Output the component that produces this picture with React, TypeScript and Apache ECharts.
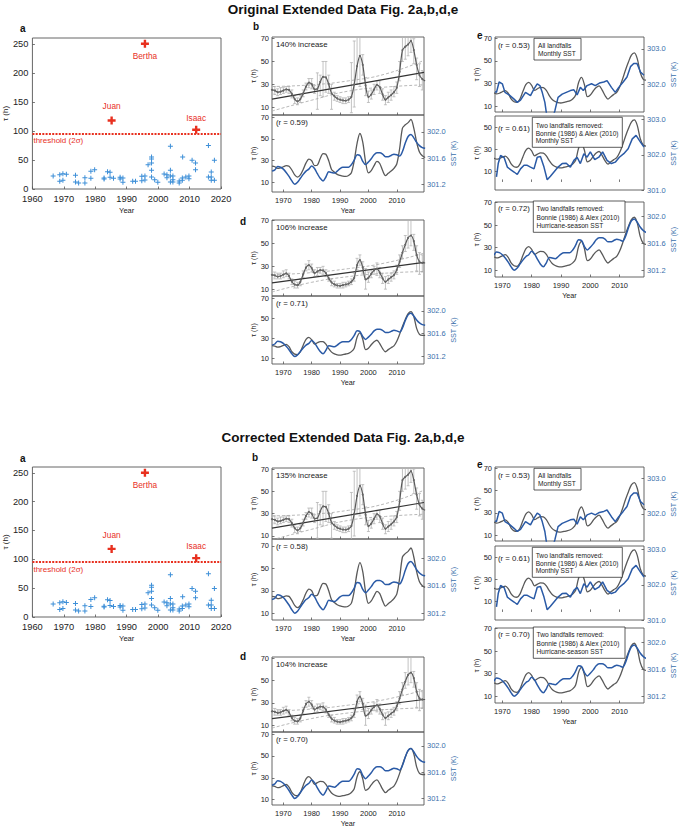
import React, { useEffect, useRef } from "react";
import * as echarts from "echarts";

// ---------------- data ----------------
const years = [1966,1967,1968,1969,1970,1971,1972,1973,1974,1975,1976,1977,1978,1979,1980,1981,1982,1983,1984,1985,1986,1987,1988,1989,1990,1991,1992,1993,1994,1995,1996,1997,1998,1999,2000,2001,2002,2003,2004,2005,2006,2007,2008,2009,2010,2011,2012,2013,2014,2015,2016,2017,2018,2019,2020];

// panel b: all landfalls, smoothed tau (h) and error bars
const tauAll = [25,24.5,23,23.5,24.5,25.5,25,21.5,17,15,17,22,28,31.5,30,25.5,26,32,36.5,36,30,22,19.5,17.5,16.5,15.8,15.6,16.5,19,30,46,55,47,29,18.8,21,25.5,29.5,27.5,21,16.4,18.5,20.5,23,27,41,60,63,65,68,60,47,38,34.5,33];
const tauAllLo = [22,21,20,21,22,23,22,18,13,12,14,19,25,27,26,22,8,20,19,23,22,8,16,15,14,13,13,14,5,10,30,28,38,20,14,17,21,25,22,16,12,14,16,19,22,33,50,52,55,58,48,34,28,25,25];
const tauAllHi = [28,28,26,27,27,28,28,25,20,18,20,25,31,35,35,29,40,38,50,50,38,30,23,20,19,18,18,19,49,68,80,80,56,36,24,25,30,33,33,26,20,23,25,28,32,50,80,80,80,80,70,53,48,42,40];

// panel d/e: two landfalls removed
const tauRemoved = [22.5,22,21,21.5,22.8,23.8,21.5,16.5,14,13.5,16.4,23,29,31,28.5,24,25.5,26.7,26.5,24,19.5,16,14.2,13.2,12.9,13.5,14.1,14.8,16.5,20,31,35.5,29,18.5,20,23.5,26.5,28,24.5,19.5,16.4,18.5,20.5,22.3,27,34,42,49,55,57,52,40,34,33,33];
const tauRemLo = [20,19,19,19,20,21,19,14,11,11,13,20,26,27,25,21,22,24,23,21,17,13,12,11,11,11,12,13,14,17,27,31,24,10,16,20,23,22,20,15,10,15,17,19,23,29,37,43,46,48,44,26,23,25,25];
const tauRemHi = [25,25,24,24,26,27,24,19,17,16,19,26,32,35,32,27,29,29,30,27,22,19,17,15,15,16,16,17,19,24,37,40,34,28,25,27,30,33,29,24,21,22,24,26,31,40,48,57,80,80,58,48,42,40,40];

// hurricane-season SST (K)
const sstSeason = [301.40,301.42,301.47,301.46,301.43,301.38,301.32,301.25,301.20,301.23,301.29,301.35,301.40,301.43,301.48,301.44,301.36,301.29,301.25,301.31,301.39,301.38,301.37,301.40,301.44,301.46,301.46,301.46,301.50,301.57,301.65,301.64,301.55,301.50,301.54,301.59,301.65,301.68,301.68,301.66,301.62,301.62,301.64,301.66,301.65,301.63,301.70,301.83,301.93,301.96,301.91,301.84,301.79,301.76,301.75];

// monthly SST (K), e top panel
const monthlyYearsA = [1967.5,1968.0,1968.9,1970.0,1970.9,1972.3,1974.0,1975.1,1976.2,1977.9,1979.6,1980.8,1981.9,1982.8,1983.6,1984.5,1985.1,1985.9,1986.8,1987.9,1989.0,1990.4,1991.8,1993.2,1994.4,1995.5,1996.6,1997.6,1998.9,2000.4,2001.7,2003.1,2004.6,2005.7,2007.2,2008.5,2009.7,2011.2,2012.5,2013.7,2014.8,2015.9,2017.1,2018.3];
const sstMonthlyA = [301.80,301.78,302.07,302.02,301.78,301.71,301.59,301.50,301.56,301.78,301.69,301.88,302.02,301.97,301.78,301.50,301.16,300.90,300.97,301.26,301.64,301.73,301.78,301.83,301.85,301.71,301.92,301.83,301.97,302.02,301.97,302.04,302.07,302.11,301.92,301.78,301.92,302.07,302.21,302.50,302.59,302.59,302.35,302.26];
// monthly SST (K), e middle panel
const monthlyYearsB = [1968.0,1968.6,1969.4,1970.6,1971.7,1972.8,1974.0,1975.1,1976.2,1977.4,1978.5,1979.6,1980.8,1981.9,1983.0,1984.2,1985.3,1986.4,1987.6,1989.0,1990.4,1991.8,1993.2,1994.4,1995.5,1996.6,1997.8,1998.9,2000.0,2001.5,2002.9,2004.2,2005.7,2007.2,2008.5,2009.9,2011.4,2012.9,2014.3,2015.6,2017.1,2018.3];
const sstMonthlyB = [301.37,301.75,301.98,301.92,301.65,301.58,301.51,301.44,301.60,301.70,301.70,301.65,301.60,301.93,301.95,301.65,301.29,301.39,301.51,301.65,301.75,301.76,301.65,301.84,301.93,301.75,302.03,301.93,302.08,301.86,301.93,302.08,301.84,301.75,301.79,301.93,302.03,302.17,302.45,302.55,302.36,302.22];

// trend lines and confidence bands
const regYears = [1966, 2019.6];
const bRegOrig = [17, 40.5];
const bRegCorr = [17, 40];
const dRegOrig = [15.5, 33.5];
const dRegCorr = [16, 33];
const ciYears = [1966, 1980, 1993, 2006, 2019.6];
const bUpper = [28, 29.5, 33, 39, 51];
const bLower = [6.5, 16, 24, 27.5, 29.5];
const dUpper = [22.5, 24.5, 28, 33, 41.5];
const dLower = [7.5, 16, 21, 24, 25.5];

// panel a: individual landfalls
const stormYears = [1966.6,1968.7,1968.7,1969.7,1969.7,1970.8,1973.7,1973.7,1974.7,1976.7,1976.7,1978.6,1978.6,1979.8,1982.8,1982.8,1983.9,1984.7,1984.7,1985.8,1987.9,1987.9,1988.8,1988.8,1991.9,1992.8,1994.8,1994.8,1995.8,1995.8,1996.8,1997.9,1997.9,1997.9,1997.9,1997.9,1998.9,1999.9,2001.9,2002.8,2002.8,2003.9,2003.9,2003.9,2003.9,2004.7,2004.7,2004.7,2006.7,2006.7,2007.7,2007.7,2007.8,2008.8,2009.8,2009.8,2010.8,2011.9,2011.9,2016.0,2016.0,2016.9,2016.9,2016.9,2017.9,2017.9];
const stormTauOrig = [22.4,24.6,13.2,26.4,14.9,25.2,23.5,12.0,10.3,19.5,10.3,30.4,18.3,33.3,17.2,18.8,29.8,28.7,20.1,18.3,20.1,17.2,18.9,11.5,13.2,13.2,14.3,21.8,22.4,15.5,41.9,55,51.6,44.7,32.1,20.6,16.1,11.5,25.8,24.6,19.5,73.4,32.1,22.4,12.0,22.4,16.1,12.0,10.3,13.8,14.9,18.9,55,20.6,22.4,17.8,49.3,44.7,33.3,75.1,20.6,29.2,20.6,14.9,49.3,14.9];
const stormTauCorr = [22.4,24.6,13.2,26.4,14.9,25.2,23.5,12.0,10.3,19.5,10.3,30.4,18.3,33.3,17.2,18.8,29.8,28.7,20.1,18.3,20.1,17.2,18.9,11.5,13.2,13.2,14.3,21.8,22.4,15.5,41.9,55,51.6,44.7,32.1,20.6,16.1,11.5,25.8,24.6,19.5,73.4,32.1,22.4,12.0,22.4,16.1,12.0,10.3,13.8,14.9,18.9,35,20.6,22.4,17.8,49.3,44.7,33.3,75.1,20.6,29.2,20.6,14.9,49.3,14.9];
const outlierNames = ["Juan", "Bertha", "Isaac"];
const outlierYears = [1985.2, 1995.8, 2012.1];
const outlierTau = [118, 250, 102];
const threshold = 95;

// tick labels
const xTicksA = [1960, 1970, 1980, 1990, 2000, 2010, 2020];
const yTicksA = [0, 50, 100, 150, 200, 250];
const xTicksB = [1970, 1980, 1990, 2000, 2010];
const tauTicks = [10, 30, 50, 70];
const tauTicksE2 = [10, 30, 50];
const sstTicksSeason = [301.2, 301.6, 302.0];
const sstTicksE1 = [302.0, 303.0];
const sstTicksE2 = [301.0, 302.0, 303.0];

// ---------------- styling / layout ----------------
const FONT = '"Liberation Sans", Arial, Helvetica, sans-serif';
const GRAY = "#595959";
const BLUE = "#2a5aa6";
const BLUE_TXT = "#3a6fab";
const RED = "#e8301f";
const SC_BLUE = "#3d8fd8";
const PLUS_THIN = "path://M4,0H6V4H10V6H6V10H4V6H0V4H4Z";
const PLUS_BOLD = "path://M3.5,0H6.5V3.5H10V6.5H6.5V10H3.5V6.5H0V3.5H3.5Z";

const halves = [
  {
    title: "Original Extended Data Fig. 2a,b,d,e", titleY: 9,
    stormTau: stormTauOrig,
    a: { top: 38, h: 151 }, aL: [20, 28],
    bT: { top: 37, h: 78, min: 3, max: 71.5 },
    bB: { top: 115, h: 77, min: 1.3, max: 72, rmin: 301.08, rmax: 302.26 }, bL: [253, 26],
    dT: { top: 220, h: 76, min: 4, max: 70.6 },
    dB: { top: 296, h: 68, min: 4, max: 72.7, rmin: 301.07, rmax: 302.26 }, dL: [240, 221],
    e1: { top: 37, h: 75 }, e2: { top: 116, h: 74 }, e3: { top: 202, h: 75 }, eL: [477, 35],
    bReg: bRegOrig, dReg: dRegOrig,
    bInc: "140% increase", bR: "(r = 0.59)", dInc: "106% increase", dR: "(r = 0.71)",
    e1R: "(r = 0.53)", e2R: "(r = 0.61)", e3R: "(r = 0.72)",
  },
  {
    title: "Corrected Extended Data Fig. 2a,b,d,e", titleY: 437,
    stormTau: stormTauCorr,
    a: { top: 467, h: 150 }, aL: [20, 458],
    bT: { top: 468, h: 71, min: 7.3, max: 70.9 },
    bB: { top: 539, h: 81, min: 4, max: 76, rmin: 301.10, rmax: 302.29 }, bL: [252, 457],
    dT: { top: 657, h: 75, min: 4, max: 70.9 },
    dB: { top: 732, h: 75, min: 5, max: 72, rmin: 301.10, rmax: 302.21 }, dL: [240, 656],
    e1: { top: 467, h: 74 }, e2: { top: 546, h: 74 }, e3: { top: 628, h: 75 }, eL: [477, 464],
    bReg: bRegCorr, dReg: dRegCorr,
    bInc: "135% increase", bR: "(r = 0.58)", dInc: "104% increase", dR: "(r = 0.70)",
    e1R: "(r = 0.53)", e2R: "(r = 0.61)", e3R: "(r = 0.70)",
  },
];

function buildOption() {
  const grid: any[] = [];
  const xAxis: any[] = [];
  const yAxis: any[] = [];
  const series: any[] = [];
  const graphic: any[] = [];

  const addGrid = (left: number, top: number, width: number, height: number) => {
    grid.push({ left, top, width, height, show: true, borderColor: "#555", borderWidth: 0.9, backgroundColor: "rgba(0,0,0,0)" });
    return grid.length - 1;
  };
  const addX = (gridIndex: number, min: number, max: number, vals: number[], o: any = {}) => {
    xAxis.push({
      type: "value", gridIndex, min, max,
      axisLine: { show: false }, splitLine: { show: false },
      axisTick: { show: true, inside: true, length: 2.5, customValues: vals, lineStyle: { color: "#555", width: 0.8 } },
      axisLabel: {
        show: !!o.labels, customValues: vals, fontSize: o.fontSize ?? 7.5, color: "#222", margin: o.margin ?? 4, fontFamily: FONT,
        formatter: (v: number) => String(v),
      },
      name: o.name ?? "", nameLocation: "middle", nameGap: o.nameGap ?? 14,
      nameTextStyle: { fontSize: o.nameSize ?? 7.2, color: "#222", fontFamily: FONT },
    });
    return xAxis.length - 1;
  };
  const addY = (gridIndex: number, min: number, max: number, vals: number[], o: any = {}) => {
    const color = o.color ?? "#222";
    yAxis.push({
      type: "value", gridIndex, min, max, position: o.right ? "right" : "left",
      axisLine: { show: false }, splitLine: { show: false },
      axisTick: { show: true, inside: true, length: 2.5, customValues: vals, lineStyle: { color: "#555", width: 0.8 } },
      axisLabel: {
        show: true, customValues: vals, fontSize: o.fontSize ?? 7.5, color, margin: o.margin ?? 3, fontFamily: FONT,
        formatter: (v: number) => (o.digits ? v.toFixed(o.digits) : String(v)),
      },
      name: o.name ?? "", nameLocation: "middle", nameGap: o.nameGap ?? 11, nameRotate: 90,
      nameTextStyle: { fontSize: o.nameSize ?? 7.2, color, fontFamily: FONT },
    });
    return yAxis.length - 1;
  };
  const pairs = (xs: number[], ys: number[]) => xs.map((x, i) => [x, ys[i]]);
  const line = (xi: number, yi: number, data: any[], color: string, width: number, extra: any = {}) => {
    series.push({
      type: "line", xAxisIndex: xi, yAxisIndex: yi, data, showSymbol: false, symbol: "none",
      lineStyle: { color, width }, silent: true, clip: true, z: 3, ...extra,
    });
  };
  const errorBars = (xi: number, yi: number, lo: number[], hi: number[]) => {
    series.push({
      type: "custom", xAxisIndex: xi, yAxisIndex: yi, clip: true, silent: true, z: 1,
      data: years.map((y, i) => [y, lo[i], hi[i]]),
      encode: { x: 0, y: [1, 2] },
      renderItem: (_p: any, api: any) => {
        const a = api.coord([api.value(0), api.value(1)]);
        const b = api.coord([api.value(0), api.value(2)]);
        const st = { stroke: "#b4b4b4", lineWidth: 0.8 };
        return {
          type: "group",
          children: [
            { type: "line", shape: { x1: a[0], y1: a[1], x2: b[0], y2: b[1] }, style: st },
            { type: "line", shape: { x1: a[0] - 1.5, y1: a[1], x2: a[0] + 1.5, y2: a[1] }, style: st },
            { type: "line", shape: { x1: b[0] - 1.5, y1: b[1], x2: b[0] + 1.5, y2: b[1] }, style: st },
          ],
        };
      },
    });
  };
  const text = (x: number, y: number, s: string, o: any = {}) => {
    graphic.push({
      type: "text", x, y, z: 60, silent: true,
      style: {
        text: s, fontSize: o.fontSize ?? 8, fontFamily: FONT, fontWeight: o.bold ? "bold" : "normal",
        fill: o.color ?? "#222", align: o.align ?? "left", verticalAlign: "middle",
        textAlign: o.align ?? "left", textVerticalAlign: "middle",
      },
    });
  };
  const box = (x: number, y: number, w: number, h: number) => {
    graphic.push({ type: "rect", z: 55, silent: true, shape: { x, y, width: w, height: h }, style: { fill: "#fff", stroke: "#333", lineWidth: 0.8 } });
  };

  const B_LEFT = 272, B_W = 152, B_XMIN = 1966, B_XMAX = 2019.6;
  const E_LEFT = 495, E_W = 149, E_XMIN = 1967.5, E_XMAX = 2018.3;

  halves.forEach((h) => {
    text(343, h.titleY, h.title, { fontSize: 13.5, bold: true, align: "center", color: "#111" });

    // ---- panel a ----
    {
      const gi = addGrid(31, h.a.top, 190, h.a.h);
      const xi = addX(gi, 1960, 2020, xTicksA, { labels: true, fontSize: 9.3, margin: 5, name: "Year", nameGap: 17, nameSize: 7.6 });
      const yi = addY(gi, 0, 260, yTicksA, { fontSize: 9.3, margin: 4, name: "τ (h)", nameGap: 21, nameSize: 8 });
      series.push({
        type: "scatter", xAxisIndex: xi, yAxisIndex: yi, silent: true, z: 3,
        data: pairs(stormYears, h.stormTau), symbol: PLUS_THIN, symbolSize: 5, itemStyle: { color: SC_BLUE, opacity: 1 },
        markLine: {
          silent: true, symbol: "none", data: [{ yAxis: threshold }],
          lineStyle: { color: RED, type: [2, 1.3], width: 2, opacity: 1 },
          label: { show: true, position: "insideStartBottom", formatter: "threshold (2σ)", color: RED, fontSize: 8, fontFamily: FONT, distance: [1, 3] },
        },
      });
      series.push({
        type: "scatter", xAxisIndex: xi, yAxisIndex: yi, silent: true, z: 4,
        symbol: PLUS_BOLD, symbolSize: 8, itemStyle: { color: RED, opacity: 1 },
        data: outlierNames.map((n, i) => ({
          name: n, value: [outlierYears[i], outlierTau[i]],
          label: { show: true, formatter: "{b}", position: n === "Bertha" ? "bottom" : "top", distance: n === "Juan" ? 6 : 4, color: RED, fontSize: 8.3, fontFamily: FONT },
        })),
      });
      text(h.aL[0], h.aL[1], "a", { fontSize: 10, bold: true, color: "#111" });
    }

    // ---- panels b and d ----
    const trendPanel = (top: any, bottom: any, tau: number[], lo: number[], hi: number[], reg: number[], up: number[], low: number[], inc: string, r: string, letter: number[], lname: string) => {
      const g1 = addGrid(B_LEFT, top.top, B_W, top.h);
      const x1 = addX(g1, B_XMIN, B_XMAX, xTicksB, {});
      const y1 = addY(g1, top.min, top.max, tauTicks, { name: "τ (h)", nameGap: 11 });
      errorBars(x1, y1, lo, hi);
      line(x1, y1, pairs(ciYears, up), "#a6a6a6", 0.8, { smooth: true, lineStyle: { color: "#a6a6a6", width: 0.8, type: [3, 2] } });
      line(x1, y1, pairs(ciYears, low), "#a6a6a6", 0.8, { smooth: true, lineStyle: { color: "#a6a6a6", width: 0.8, type: [3, 2] } });
      line(x1, y1, pairs(regYears, reg), "#333", 1.2);
      line(x1, y1, pairs(years, tau), GRAY, 1.2, { smooth: 0.3, showSymbol: true, symbol: "circle", symbolSize: 2, itemStyle: { color: "#666" } });
      text(B_LEFT + 4, top.top + 7.5, inc, { fontSize: 7.8 });

      const g2 = addGrid(B_LEFT, bottom.top, B_W, bottom.h);
      const x2 = addX(g2, B_XMIN, B_XMAX, xTicksB, { labels: true, name: "Year", nameGap: 15 });
      const y2 = addY(g2, bottom.min, bottom.max, tauTicks, { name: "τ (h)", nameGap: 11 });
      const y3 = addY(g2, bottom.rmin, bottom.rmax, sstTicksSeason, { right: true, color: BLUE_TXT, digits: 1, name: "SST (K)", nameGap: 23 });
      line(x2, y2, pairs(years, tau), GRAY, 1.3, { smooth: 0.3 });
      line(x2, y3, pairs(years, sstSeason), BLUE, 1.5, { smooth: 0.3, z: 4 });
      text(B_LEFT + 4, bottom.top + 7.5, r, { fontSize: 7.8 });
      text(letter[0], letter[1], lname, { fontSize: 10, bold: true, color: "#111" });
    };
    trendPanel(h.bT, h.bB, tauAll, tauAllLo, tauAllHi, h.bReg, bUpper, bLower, h.bInc, h.bR, h.bL, "b");
    trendPanel(h.dT, h.dB, tauRemoved, tauRemLo, tauRemHi, h.dReg, dUpper, dLower, h.dInc, h.dR, h.dL, "d");

    // ---- panel e ----
    const ePanel = (pos: any, tmin: number, tmax: number, tt: number[], smin: number, smax: number, st: number[], sx: number[], sy: number[], last: boolean, smoothSst: boolean) => {
      const g = addGrid(E_LEFT, pos.top, E_W, pos.h);
      const x = addX(g, E_XMIN, E_XMAX, xTicksB, last ? { labels: true, name: "Year", nameGap: 15 } : {});
      const yl = addY(g, tmin, tmax, tt, { name: "τ (h)", nameGap: 11 });
      const yr = addY(g, smin, smax, st, { right: true, color: BLUE_TXT, digits: 1, name: "SST (K)", nameGap: 23 });
      line(x, yl, pairs(years, tauRemoved), GRAY, 1.3, { smooth: 0.3 });
      line(x, yr, pairs(sx, sy), BLUE, 1.5, { smooth: smoothSst ? 0.3 : 0, z: 4 });
    };
    ePanel(h.e1, 5, 71, tauTicks, 301.23, 303.33, sstTicksE1, monthlyYearsA, sstMonthlyA, false, false);
    ePanel(h.e2, -7.4, 60.6, tauTicksE2, 301.0, 303.1, sstTicksE2, monthlyYearsB, sstMonthlyB, false, false);
    ePanel(h.e3, 4, 70.5, tauTicks, 301.10, 302.21, sstTicksSeason, years, sstSeason, true, true);

    // e annotations
    text(E_LEFT + 3, h.e1.top + 8, h.e1R, { fontSize: 7.8 });
    box(534, h.e1.top + 1.3, 47, 21.7);
    text(538, h.e1.top + 8, "All landfalls", { fontSize: 6.6 });
    text(538, h.e1.top + 16, "Monthly SST", { fontSize: 6.6 });

    text(E_LEFT + 3, h.e2.top + 12, h.e2R, { fontSize: 7.8 });
    box(532.3, h.e2.top + 1.3, 90, 30);
    text(535.7, h.e2.top + 9, "Two landfalls removed:", { fontSize: 6.6 });
    text(535.7, h.e2.top + 17.3, "Bonnie (1986) & Alex (2010)", { fontSize: 6.6 });
    text(535.7, h.e2.top + 24.7, "Monthly SST", { fontSize: 6.6 });

    text(E_LEFT + 3, h.e3.top + 6.3, h.e3R, { fontSize: 7.8 });
    box(533.3, h.e3.top - 1, 91.7, 31.3);
    text(536.5, h.e3.top + 6.3, "Two landfalls removed:", { fontSize: 6.6 });
    text(536.5, h.e3.top + 15.3, "Bonnie (1986) & Alex (2010)", { fontSize: 6.6 });
    text(536.5, h.e3.top + 23, "Hurricane-season SST", { fontSize: 6.6 });

    text(h.eL[0], h.eL[1], "e", { fontSize: 10, bold: true, color: "#111" });
  });

  return {
    animation: false,
    backgroundColor: "#fff",
    textStyle: { fontFamily: FONT },
    grid, xAxis, yAxis, series, graphic,
  };
}

export default function App() {
  const ref = useRef<HTMLDivElement>(null);
  useEffect(() => {
    if (!ref.current) return;
    const chart = echarts.init(ref.current, null, { renderer: "svg" });
    chart.setOption(buildOption() as any);
    return () => chart.dispose();
  }, []);
  return (
    <div
      ref={ref}
      style={{ position: "absolute", left: 0, top: 0, width: 685, height: 828, background: "#fff" }}
    />
  );
}
